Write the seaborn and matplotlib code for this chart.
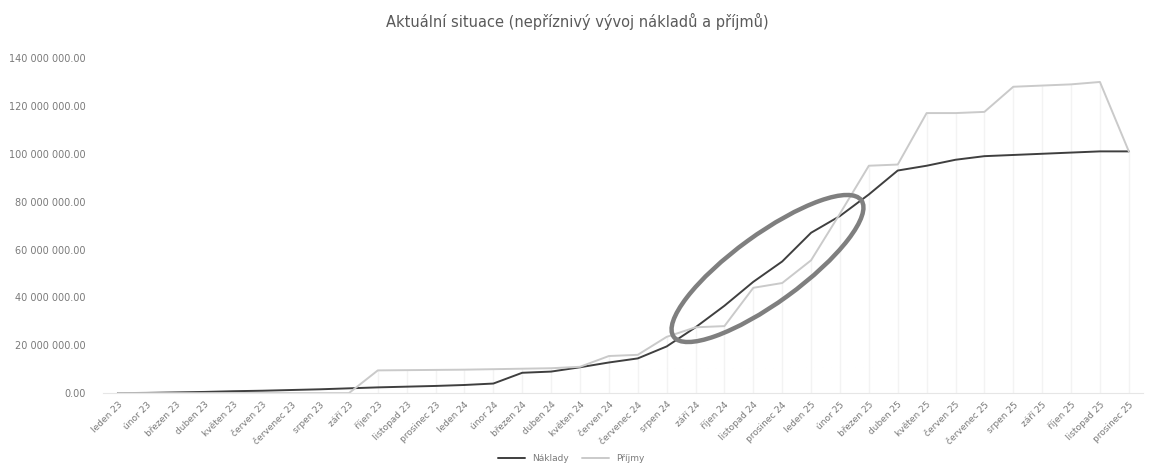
import pandas as pd
import matplotlib
matplotlib.use('Agg')
import matplotlib.pyplot as plt
import seaborn as sns
from matplotlib.patches import Ellipse
from matplotlib.ticker import FuncFormatter

# Months (Czech) and values, in millions
months = ['leden', 'únor', 'březen', 'duben', 'květen', 'červen', 'červenec',
          'srpen', 'září', 'říjen', 'listopad', 'prosinec']
years = ['23', '24', '25']
labels = [f'{m} {y}' for y in years for m in months]

naklady = [0, 0.1, 0.3, 0.5, 0.8, 1.0, 1.3, 1.6, 2.0, 2.4, 2.7, 3.0,
           3.4, 4.0, 8.5, 9.0, 10.8, 12.8, 14.5, 19.5, 27.5, 36.5, 46.5, 55,
           67, 74, 83, 93, 95, 97.5, 99, 99.5, 100, 100.5, 101, 101]
prijmy = [0, 0, 0, 0, 0, 0, 0, 0, 0, 9.5, 9.6, 9.7,
          9.8, 10.0, 10.2, 10.4, 11, 15.5, 16, 23.5, 27.5, 28, 44, 46,
          55.5, 75, 95, 95.5, 117, 117, 117.5, 128, 128.5, 129, 130, 101]

df = pd.DataFrame({
    'mesic': list(range(len(labels))) * 2,
    'hodnota': [v * 1e6 for v in naklady] + [v * 1e6 for v in prijmy],
    'rada': ['Náklady'] * len(labels) + ['Příjmy'] * len(labels),
})

sns.set_style('white')
plt.rcParams['font.family'] = ['DejaVu Sans']

fig = plt.figure(figsize=(11.49, 4.68), dpi=100)
ax = fig.add_axes([0.090, 0.160, 0.905, 0.716])

# faint drop lines under the income series
ax.vlines(range(len(labels)), 0, [v * 1e6 for v in prijmy], color='#f3f3f3', lw=1, zorder=0)

sns.lineplot(data=df, x='mesic', y='hodnota', hue='rada',
             palette={'Náklady': '#3f3f3f', 'Příjmy': '#cacaca'},
             linewidth=1.4, ax=ax, legend=True)

ax.set_xlim(-0.5, len(labels) - 0.5)
ax.set_ylim(0, 140e6)
ax.set_yticks([i * 20e6 for i in range(8)])
ax.yaxis.set_major_formatter(FuncFormatter(lambda v, p: f'{v:,.2f}'.replace(',', ' ')))
ax.set_xticks(range(len(labels)))
ax.set_xticklabels(labels, rotation=45, ha='right', rotation_mode='anchor')
ax.tick_params(axis='x', labelsize=6.5, colors='#7a7a7a', length=0, pad=5)
ax.tick_params(axis='y', labelsize=7, colors='#7a7a7a', length=0, pad=13)
ax.set_xlabel('')
ax.set_ylabel('')
for s in ['top', 'right', 'left']:
    ax.spines[s].set_visible(False)
ax.spines['bottom'].set_color('#e6e6e6')

ax.set_title('Aktuální situace (nepříznivý vývoj nákladů a příjmů)',
             fontsize=10.5, color='#5a5a5a', pad=22, x=0.456)

leg = ax.legend(loc='center', bbox_to_anchor=(0.45, -0.195), ncol=2,
                frameon=False, fontsize=6.5, handlelength=3, columnspacing=1.5)
for t in leg.get_texts():
    t.set_color('#7a7a7a')

# hand-drawn style ellipse around the crossing
ell = Ellipse((7.675, 1.995), 2.32, 0.68, angle=36, transform=fig.dpi_scale_trans,
              fill=False, ec='#7f7f7f', lw=3.2, zorder=5)
fig.patches.append(ell)

plt.savefig('out.png', dpi=100)
